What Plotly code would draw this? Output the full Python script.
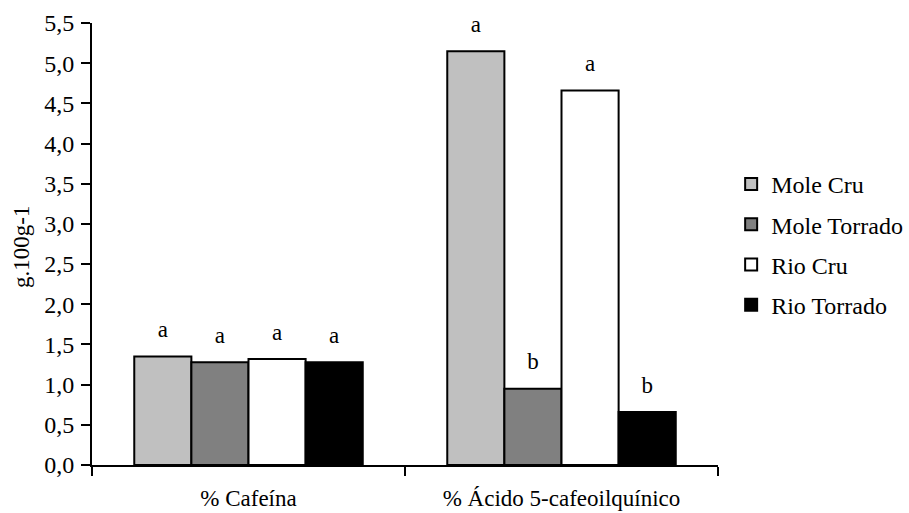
import plotly.graph_objects as go

categories = ["% Cafeína", "% Ácido 5-cafeoilquínico"]
series_names = ["Mole Cru", "Mole Torrado", "Rio Cru", "Rio Torrado"]
mole_cru = [1.35, 5.15]
mole_torrado = [1.28, 0.95]
rio_cru = [1.32, 4.66]
rio_torrado = [1.28, 0.66]
letters_mole_cru = ["a", "a"]
letters_mole_torrado = ["a", "b"]
letters_rio_cru = ["a", "a"]
letters_rio_torrado = ["a", "b"]
y_ticks = [0, 0.5, 1.0, 1.5, 2.0, 2.5, 3.0, 3.5, 4.0, 4.5, 5.0, 5.5]
y_title = "g.100g-1"

values = [mole_cru, mole_torrado, rio_cru, rio_torrado]
letters = [letters_mole_cru, letters_mole_torrado, letters_rio_cru, letters_rio_torrado]
colors = ["#C0C0C0", "#808080", "#FFFFFF", "#000000"]

FONT = "Liberation Serif"
GAP = 0.27

fig = go.Figure()
for i, (name, vals, col) in enumerate(zip(series_names, values, colors)):
    fig.add_trace(go.Bar(
        x=categories, y=vals, name=name, legendgroup=name,
        marker=dict(color=col, line=dict(color="black", width=2)),
        offsetgroup=str(i),
    ))
for i, (name, vals, lab) in enumerate(zip(series_names, values, letters)):
    fig.add_trace(go.Scatter(
        x=categories, y=vals, mode="markers+text", text=lab,
        textposition="top center",
        marker=dict(size=20, opacity=0),
        textfont=dict(family=FONT, size=23, color="black"),
        showlegend=False, hoverinfo="skip", offsetgroup=str(i),
        cliponaxis=False,
    ))

fig.add_annotation(
    text=y_title, xref="paper", yref="paper", x=0, y=0.5,
    xanchor="center", yanchor="middle", textangle=-90,
    xshift=-71, yshift=-3, showarrow=False,
    font=dict(family=FONT, size=23, color="black"),
)

fig.update_layout(
    width=909, height=513,
    margin=dict(l=92, r=191, t=23, b=48, autoexpand=False),
    paper_bgcolor="white", plot_bgcolor="white",
    barmode="group", bargap=GAP, bargroupgap=0,
    scattermode="group", scattergap=GAP,
    separators=",.",
    font=dict(family=FONT, size=22, color="black"),
    showlegend=True,
    legend=dict(x=1.021, y=0.499, xanchor="left", yanchor="middle",
                font=dict(family=FONT, size=24, color="black"),
                tracegroupgap=6, bgcolor="rgba(0,0,0,0)"),
    xaxis=dict(
        showline=True, linecolor="black", linewidth=2,
        ticks="outside", tickson="boundaries", ticklen=9, tickwidth=2, tickcolor="black",
        tickfont=dict(family=FONT, size=23), ticklabelstandoff=11,
        showgrid=False, zeroline=False,
    ),
    yaxis=dict(
        range=[0, 5.5], tickvals=y_ticks, tickformat=".1f",
        showline=True, linecolor="black", linewidth=2,
        ticks="outside", ticklen=9, tickwidth=2, tickcolor="black",
        tickfont=dict(family=FONT, size=24), ticklabelstandoff=2,
        showgrid=False, zeroline=False,
    ),
)

fig.write_html("out.html", config={"displayModeBar": False},
               post_script="document.body.style.margin='0';")
